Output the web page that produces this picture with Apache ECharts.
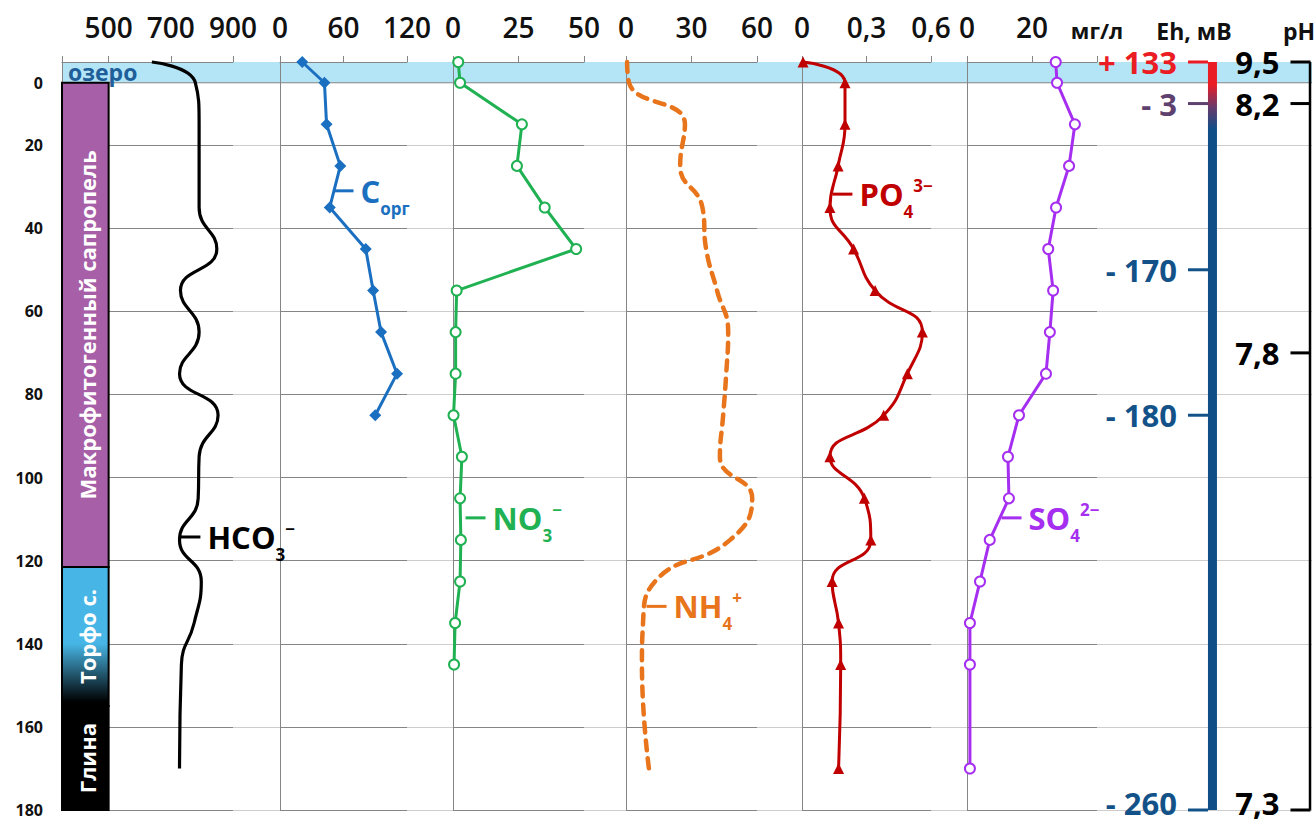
<!DOCTYPE html>
<html>
<head>
<meta charset="utf-8">
<title>Гидрохимический профиль донных отложений</title>
<script src="https://cdn.jsdelivr.net/npm/echarts@6/dist/echarts.min.js"></script>
<style>
  html, body { margin: 0; padding: 0; background: #ffffff; }
  #chart { width: 1316px; height: 825px; }
</style>
</head>
<body>
<div id="chart"></div>
<script>
// ---- Data ---------------------------------------------------------------
// Sampling depths (0 = lake water, 5 = sediment surface)
const depths     = [0, 5, 15, 25, 35, 45, 55, 65, 75, 85, 95, 105, 115, 125, 135, 145, 170];
const hco3       = [639, 779, 791, 791, 791, 848, 731, 791, 728, 852, 791, 788, 728, 798, 775, 734, 728];
const corgDepths = [0, 5, 15, 25, 35, 45, 55, 65, 75, 85];
const corg       = [21, 42, 44, 57, 47, 81, 88, 95.5, 110.6, 90];
const no3Depths  = [0, 5, 15, 25, 35, 45, 55, 65, 75, 85, 95, 105, 115, 125, 135, 145];
const no3        = [2, 2.7, 26.3, 24.4, 35, 47, 1.4, 1.0, 1.0, 0.2, 3.4, 2.7, 3, 2.7, 0.8, 0.4];
const nh4        = [0.5, 1.4, 27, 24.8, 35, 36.7, 41.7, 46.8, 45.9, 44.5, 43, 57.8, 47.7, 13.3, 7.8, 7.3, 10.5];
const po4        = [0.005, 0.2, 0.2, 0.168, 0.13, 0.24, 0.34, 0.56, 0.49, 0.38, 0.13, 0.29, 0.32, 0.14, 0.17, 0.18, 0.17];
const so4        = [27.3, 27.7, 33.2, 31.4, 27.4, 25, 26.5, 25.5, 24.3, 16, 12.6, 12.9, 7, 4, 0.9, 0.9, 0.9];

// Redox potential and pH along the core
const ehDepths = [0, 10, 50, 85, 180];
const ehValues = [133, -3, -170, -180, -260];
const phDepths = [0, 10, 70, 180];
const phValues = [9.5, 8.2, 7.8, 7.3];

// Lithology column
const layerNames  = ['Макрофитогенный сапропель', 'Торфо с.', 'Глина'];
const layerTop    = [5, 121.5, 155];
const layerBottom = [121.5, 155, 180];
const lakeName    = 'озеро';
const lakeTop = 0, lakeBottom = 5;

// Axis ticks and labels
const depthTickValues = [5, 20, 40, 60, 80, 100, 120, 140, 160, 180];
const depthTickLabels = ['0', '20', '40', '60', '80', '100', '120', '140', '160', '180'];
const hco3Ticks  = [350, 500, 700, 900];
const hco3Labels = [500, 700, 900];
const corgTicks  = [0, 60, 120];
const no3Ticks   = [0, 25, 50];
const nh4Ticks   = [0, 30, 60];
const po4Ticks   = [0, 0.3, 0.6];
const so4Ticks   = [0, 20, 40];
const unitText   = 'мг/л';
const ehTitle    = 'Eh, мВ';
const phTitle    = 'pH';

// ---- Styles -------------------------------------------------------------
const FONT = '"Open Sans", "Liberation Sans", sans-serif';
const TOP = 62, BOTTOM = 15;
const DEPTH_MAX = 180;
const LINE_DARK = '#858585';
const LINE_LIGHT = '#cdcdcd';
const TEXT = '#111111';
const C = {
  hco3: '#000000', corg: '#1b6fc0', no3: '#1fb152', nh4: '#e8741c',
  po4: '#c00000', so4: '#a52ef0', lake: '#b4e5f7', lakeText: '#1f5f99',
  sapropel: '#a75fa7', peat: '#47b6e6', clay: '#000000'
};
const ehColors = ['#ea1c24', '#5e416f', '#135289', '#135289', '#135289'];
const EH_BAR_TOP = '#ea1c24', EH_BAR_MID = '#6a3a6c', EH_BAR_LOW = '#0f4e86';

// Panel frames (px)
const panels = [
  { left: 62,  width: 171, ticks: hco3Ticks, labels: hco3Labels },
  { left: 280, width: 127, ticks: corgTicks, labels: corgTicks },
  { left: 453, width: 131, ticks: no3Ticks,  labels: no3Ticks },
  { left: 626, width: 131, ticks: nh4Ticks,  labels: nh4Ticks },
  { left: 802, width: 129, ticks: po4Ticks,  labels: po4Ticks },
  { left: 967, width: 130, ticks: so4Ticks,  labels: so4Ticks }
];
// Eh / pH scale positions inside their own frame (0..1)
const EH_TICK_X = 0.197, EH_BAR_X = 0.299, PH_TICK_X = 0.919, PH_LINE_X = 0.986;

const fmtComma = v => String(v).replace('.', ',');
// the bottom-most scale labels sit a little higher so they stay inside the frame
const edgeOffset = d => (d >= DEPTH_MAX ? [0, -7] : [0, 0]);

// ---- Grids and axes -----------------------------------------------------
const grids = [{ left: 62, right: 4, top: TOP, bottom: BOTTOM }];
panels.forEach(p => grids.push({ left: p.left, width: p.width, top: TOP, bottom: BOTTOM }));
grids.push({ left: 1170, width: 142, top: TOP, bottom: BOTTOM });

function depthAxis(gridIndex, extra) {
  return Object.assign({
    type: 'value', gridIndex, inverse: true, min: 0, max: DEPTH_MAX, interval: 20,
    axisLine: { show: false }, axisTick: { show: false }, axisLabel: { show: false },
    splitLine: { show: false }
  }, extra || {});
}

const xAxes = [{ type: 'value', gridIndex: 0, min: 0, max: 1, show: false }];
const yAxes = [depthAxis(0, {
  z: -1,
  splitLine: { show: true, showMinLine: false, lineStyle: { color: LINE_LIGHT, width: 1 } }
})];

panels.forEach((p, i) => {
  const ticks = p.ticks;
  xAxes.push({
    type: 'value', gridIndex: i + 1, position: 'top',
    min: ticks[0], max: ticks[ticks.length - 1],
    axisLine: { show: true, onZero: false, lineStyle: { color: LINE_DARK, width: 1 } },
    axisTick: { show: true, customValues: ticks, length: 6, lineStyle: { color: LINE_DARK, width: 1 } },
    axisLabel: {
      show: true, customValues: p.labels, margin: 21,
      fontSize: 28, fontWeight: 600, fontFamily: FONT, color: TEXT,
      formatter: v => (i === 5 && v === 40) ? '{u|' + unitText + '}' : fmtComma(v),
      rich: { u: { fontSize: 22, fontWeight: 'bold', fontFamily: FONT, color: TEXT } }
    },
    splitLine: { show: false }
  });
  const extra = {
    axisLine: { show: true, onZero: false, lineStyle: { color: LINE_DARK, width: 1 } },
    splitLine: { show: true, lineStyle: { color: LINE_DARK, width: 1 } }
  };
  if (i === 0) {
    extra.axisLabel = {
      show: true, customValues: depthTickValues, margin: 19,
      fontSize: 16, fontWeight: 'bold', fontFamily: FONT, color: TEXT,
      formatter: v => depthTickLabels[depthTickValues.indexOf(v)]
    };
  }
  yAxes.push(depthAxis(i + 1, extra));
});

xAxes.push({ type: 'value', gridIndex: 7, min: 0, max: 1, show: false });
yAxes.push(depthAxis(7));

// ---- Species labels (formula with sub/superscript) ---------------------
function formulaLabel(main, sub, sup, color) {
  const base = { fontFamily: FONT, fontWeight: 'bold', color };
  return {
    show: true, position: 'right', distance: 7,
    formatter: () => '{mn|' + main + '}{sb|' + sub + '}' + (sup ? '{sp|' + sup + '}' : ''),
    rich: {
      mn: Object.assign({ fontSize: 31, lineHeight: 52, verticalAlign: 'middle' }, base),
      sb: Object.assign({ fontSize: 17, lineHeight: 17, verticalAlign: 'bottom' }, base),
      sp: Object.assign({ fontSize: 17, lineHeight: 17, verticalAlign: 'top', padding: [9, 0, 0, 0] }, base)
    }
  };
}
function leader(coord, color, label) {
  return {
    symbol: 'rect', symbolSize: [20, 3], silent: true, animation: false,
    data: [{ coord, itemStyle: { color }, label }]
  };
}

// ---- Series -------------------------------------------------------------
const series = [];

// lake water band across the whole section
series.push({
  type: 'custom', xAxisIndex: 0, yAxisIndex: 0, z: -1, silent: true, clip: false,
  data: [[lakeTop, lakeBottom]],
  renderItem: (params, api) => {
    const a = api.coord([0, api.value(0)]);
    const b = api.coord([1, api.value(1)]);
    return {
      type: 'group', children: [
        { type: 'rect', shape: { x: a[0], y: a[1], width: b[0] - a[0], height: b[1] - a[1] },
          style: { fill: C.lake } },
        { type: 'line', shape: { x1: a[0], y1: b[1], x2: b[0], y2: b[1] },
          style: { stroke: LINE_DARK, lineWidth: 1 } },
        { type: 'text', x: a[0] + 6, y: (a[1] + b[1]) / 2,
          style: { text: lakeName, fill: C.lakeText, fontSize: 23, fontWeight: 'bold',
                   fontFamily: FONT, align: 'left', verticalAlign: 'middle' } }
      ]
    };
  }
});

// HCO3-
series.push({
  type: 'line', xAxisIndex: 1, yAxisIndex: 1, clip: false, smooth: 0.5, symbol: 'none',
  data: depths.map((d, i) => [hco3[i], d]),
  lineStyle: { color: C.hco3, width: 3.2 },
  markPoint: leader([763, 114.3], C.hco3, formulaLabel('HCO', '3', '−', C.hco3))
});

// lithology column
series.push({
  type: 'custom', xAxisIndex: 1, yAxisIndex: 1, z: 10, silent: true, clip: false,
  data: layerTop.map((t, i) => [t, layerBottom[i], i]),
  renderItem: (params, api) => {
    const i = api.value(2);
    const a = api.coord([350, api.value(0)]);
    const b = api.coord([500, api.value(1)]);
    let fill = C.sapropel;
    if (i === 1) {
      fill = new echarts.graphic.LinearGradient(0, 0, 0, 1, [
        { offset: 0, color: C.peat }, { offset: 0.55, color: C.peat },
        { offset: 0.97, color: C.clay }, { offset: 1, color: C.clay }
      ]);
    } else if (i === 2) {
      fill = C.clay;
    }
    return {
      type: 'group', children: [
        { type: 'rect', shape: { x: a[0], y: a[1], width: b[0] - a[0], height: b[1] - a[1] },
          style: { fill, stroke: '#000', lineWidth: 2 } },
        { type: 'text', x: (a[0] + b[0]) / 2 + 2, y: (a[1] + b[1]) / 2, rotation: Math.PI / 2,
          style: { text: layerNames[i], fill: '#ffffff', fontSize: 22, fontWeight: 'bold',
                   fontFamily: FONT, align: 'center', verticalAlign: 'middle' } }
      ]
    };
  }
});

// C org
series.push({
  type: 'line', xAxisIndex: 2, yAxisIndex: 2, clip: false,
  data: corgDepths.map((d, i) => [corg[i], d]),
  symbol: 'diamond', symbolSize: 12,
  itemStyle: { color: C.corg }, lineStyle: { color: C.corg, width: 3 },
  markPoint: leader([60, 31], C.corg, formulaLabel('C', 'орг', '', C.corg))
});

// NO3-
series.push({
  type: 'line', xAxisIndex: 3, yAxisIndex: 3, clip: false,
  data: no3Depths.map((d, i) => [no3[i], d]),
  symbol: 'emptyCircle', symbolSize: 10,
  itemStyle: { color: C.no3, borderWidth: 2 }, lineStyle: { color: C.no3, width: 3 },
  markPoint: leader([8.6, 109.7], C.no3, formulaLabel('NO', '3', '−', C.no3))
});

// NH4+
series.push({
  type: 'line', xAxisIndex: 4, yAxisIndex: 4, clip: false, smooth: 0.5, symbol: 'none',
  data: depths.map((d, i) => [nh4[i], d]),
  lineStyle: { color: C.nh4, width: 4.5, type: [10, 8], cap: 'round' },
  markPoint: leader([14, 131], C.nh4, formulaLabel('NH', '4', '+', C.nh4))
});

// PO4 3-
series.push({
  type: 'line', xAxisIndex: 5, yAxisIndex: 5, clip: false, smooth: 0.5,
  data: depths.map((d, i) => [po4[i], d]),
  symbol: 'triangle', symbolSize: 11,
  itemStyle: { color: C.po4 }, lineStyle: { color: C.po4, width: 3 },
  markPoint: leader([0.188, 31.8], C.po4, formulaLabel('PO', '4', '3−', C.po4))
});

// SO4 2-
series.push({
  type: 'line', xAxisIndex: 6, yAxisIndex: 6, clip: false,
  data: depths.map((d, i) => [so4[i], d]),
  symbol: 'emptyCircle', symbolSize: 10,
  itemStyle: { color: C.so4, borderWidth: 2 }, lineStyle: { color: C.so4, width: 3 },
  markPoint: leader([13.7, 109.7], C.so4, formulaLabel('SO', '4', '2−', C.so4))
});

// Eh scale bar
series.push({
  type: 'custom', xAxisIndex: 7, yAxisIndex: 7, clip: false, silent: true,
  data: [[ehDepths[0], ehDepths[ehDepths.length - 1]]],
  renderItem: (params, api) => {
    const a = api.coord([EH_BAR_X, api.value(0)]);
    const b = api.coord([EH_BAR_X, api.value(1)]);
    return {
      type: 'rect', shape: { x: a[0] - 4.5, y: a[1], width: 9, height: b[1] - a[1] },
      style: { fill: new echarts.graphic.LinearGradient(0, 0, 0, 1, [
        { offset: 0, color: EH_BAR_TOP }, { offset: 0.03, color: EH_BAR_TOP },
        { offset: 0.06, color: EH_BAR_MID }, { offset: 0.09, color: EH_BAR_LOW },
        { offset: 1, color: EH_BAR_LOW }
      ]) }
    };
  }
});

// Eh ticks and values
series.push({
  type: 'scatter', xAxisIndex: 7, yAxisIndex: 7, clip: false, silent: true,
  symbol: 'rect', symbolSize: [20, 3],
  itemStyle: { opacity: 1 },
  data: ehDepths.map((d, i) => ({
    value: [EH_TICK_X, d],
    itemStyle: { color: ehColors[i], opacity: 1 },
    label: { color: ehColors[i], offset: edgeOffset(d) }
  })),
  label: {
    show: true, position: 'left', distance: 11, lineHeight: 26,
    fontSize: 31, fontWeight: 'bold', fontFamily: FONT,
    formatter: p => { const v = ehValues[p.dataIndex]; return (v > 0 ? '+ ' : '- ') + Math.abs(v); }
  }
});

// pH scale line
series.push({
  type: 'line', xAxisIndex: 7, yAxisIndex: 7, clip: false, silent: true, symbol: 'none',
  data: [[PH_LINE_X, phDepths[0]], [PH_LINE_X, phDepths[phDepths.length - 1]]],
  lineStyle: { color: '#000', width: 2.5 }
});

// pH ticks and values
series.push({
  type: 'scatter', xAxisIndex: 7, yAxisIndex: 7, clip: false, silent: true,
  symbol: 'rect', symbolSize: [20, 3], itemStyle: { color: '#000', opacity: 1 },
  data: phDepths.map(d => ({ value: [PH_TICK_X, d], label: { offset: edgeOffset(d) } })),
  label: {
    show: true, position: 'left', distance: 11, color: '#000', lineHeight: 26,
    fontSize: 31, fontWeight: 'bold', fontFamily: FONT,
    formatter: p => phValues[p.dataIndex].toFixed(1).replace('.', ',')
  }
});

// ---- Chart --------------------------------------------------------------
const chart = echarts.init(document.getElementById('chart'), null, { renderer: 'svg' });
chart.setOption({
  animation: false,
  backgroundColor: '#ffffff',
  grid: grids,
  xAxis: xAxes,
  yAxis: yAxes,
  series,
  graphic: [
    { type: 'text', x: 1194, y: 42, silent: true,
      style: { text: ehTitle, fill: TEXT, fontSize: 23, fontWeight: 'bold', fontFamily: FONT,
               align: 'center', verticalAlign: 'bottom' } },
    { type: 'text', x: 1283, y: 42, silent: true,
      style: { text: phTitle, fill: TEXT, fontSize: 23, fontWeight: 'bold', fontFamily: FONT,
               align: 'left', verticalAlign: 'bottom' } }
  ]
});
</script>
</body>
</html>
